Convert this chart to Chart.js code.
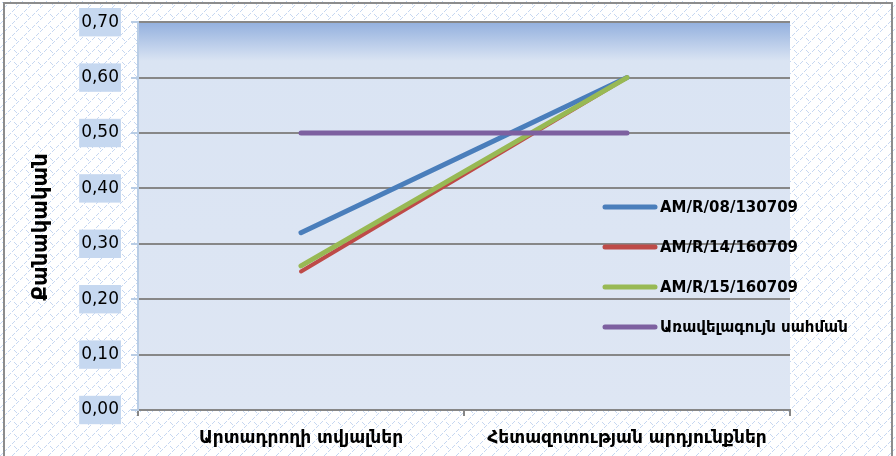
<!DOCTYPE html>
<html>
<head>
<meta charset="utf-8">
<script src="https://cdn.jsdelivr.net/npm/chart.js@4/dist/chart.umd.min.js"></script>
<style>
    body { margin: 0; background: #fff; }
    #wrap { width: 896px; height: 456px; }
</style>
</head>
<body>
<div id="wrap"><canvas id="qualityChart" width="896" height="456"></canvas></div>
<script>
const categories = ["Արտադրողի տվյալներ", "Հետազոտության արդյունքներ"];
const seriesNames = ["AM/R/08/130709", "AM/R/14/160709", "AM/R/15/160709", "Առավելագույն սահման"];
const sample08 = [0.32, 0.60];
const sample14 = [0.25, 0.60];
const sample15 = [0.26, 0.60];
const maxLimit = [0.50, 0.50];
const yTicks = [0, 0.1, 0.2, 0.3, 0.4, 0.5, 0.6, 0.7];
const yTitle = "Քանակական";

const colors = ["#4a7ebb", "#be4b48", "#98b954", "#7d60a0"];
const widths = [5, 4, 5, 5];

// hatched page background: "/" lines with short "\" links
function makeHatch(ctx) {
    const c = document.createElement("canvas");
    c.width = 12; c.height = 12;
    const p = c.getContext("2d");
    p.fillStyle = "#fff";
    p.fillRect(0, 0, 12, 12);
    p.fillStyle = "#c6d7f1";
    for (let i = 0; i < 12; i++) {
        if (i % 4 !== 3) p.fillRect(i, 11 - i, 1, 1);
    }
    for (let i = 0; i < 3; i++) p.fillRect(i + 2, i + 2, 1, 1);
    return ctx.createPattern(c, "repeat");
}

const backgroundPlugin = {
    id: "bg",
    beforeDraw(chart) {
        const ctx = chart.ctx;
        const a = chart.chartArea;
        ctx.save();
        ctx.fillStyle = makeHatch(ctx);
        ctx.fillRect(0, 0, chart.width, chart.height);
        ctx.strokeStyle = "#8c8c8c";
        ctx.lineWidth = 2;
        ctx.strokeRect(4, 3, 888, 470);
        const g = ctx.createLinearGradient(0, a.top, 0, a.bottom);
        g.addColorStop(0, "#93b0de");
        g.addColorStop(0.1, "#dae4f3");
        g.addColorStop(1, "#dee6f3");
        ctx.fillStyle = g;
        ctx.fillRect(a.left, a.top, a.right - a.left, a.bottom - a.top);
        ctx.restore();
    },
    afterDraw(chart) {
        // y title, sits a bit below the plot middle like the original
        const ctx = chart.ctx;
        ctx.save();
        ctx.translate(42, 227);
        ctx.rotate(-Math.PI / 2);
        ctx.font = "bold 21px 'DejaVu Sans'";
        ctx.fillStyle = "#000";
        ctx.textAlign = "center";
        ctx.textBaseline = "middle";
        ctx.fillText(yTitle, 0, 0);
        ctx.restore();
    }
};

const legendPlugin = {
    id: "sideLegend",
    afterDraw(chart) {
        const ctx = chart.ctx;
        const rows = [207, 247, 287, 327];
        ctx.save();
        ctx.font = "bold 15px 'DejaVu Sans'";
        ctx.textBaseline = "middle";
        chart.data.datasets.forEach((ds, i) => {
            ctx.strokeStyle = ds.borderColor;
            ctx.lineWidth = 5;
            ctx.lineCap = "round";
            ctx.beginPath();
            ctx.moveTo(605, rows[i]);
            ctx.lineTo(655, rows[i]);
            ctx.stroke();
            ctx.fillStyle = "#000";
            ctx.fillText(ds.label, 660, rows[i] + 1);
        });
        ctx.restore();
    }
};

const seriesData = [sample08, sample14, sample15, maxLimit];

new Chart(document.getElementById("qualityChart"), {
    type: "line",
    data: {
        labels: categories,
        datasets: seriesData.map((d, i) => ({
            label: seriesNames[i],
            data: d,
            borderColor: colors[i],
            backgroundColor: colors[i],
            borderWidth: widths[i],
            borderCapStyle: "round",
            pointRadius: 0,
            tension: 0,
            order: 4 - i
        }))
    },
    options: {
        responsive: false,
        animation: false,
        layout: { padding: { left: 4, top: 22, right: 106, bottom: 0 } },
        plugins: {
            legend: { display: false },
            tooltip: { enabled: false }
        },
        scales: {
            x: {
                offset: true,
                grid: {
                    offset: true,
                    drawOnChartArea: false,
                    drawTicks: true,
                    tickLength: 6,
                    color: "#868686",
                    lineWidth: 2
                },
                border: { color: "#868686", width: 2 },
                ticks: {
                    color: "#000",
                    padding: 12,
                    font: { family: "'DejaVu Sans'", size: 17, weight: "bold" }
                },
                afterFit: s => { s.height = 46; }
            },
            y: {
                min: 0,
                max: 0.7,
                afterBuildTicks: s => { s.ticks = yTicks.map(v => ({ value: v })); },
                grid: {
                    color: "#878787",
                    lineWidth: 2,
                    tickLength: 7,
                    tickColor: "#b9cde5"
                },
                border: { color: "#b9cde5", width: 2 },
                ticks: {
                    color: "#000",
                    padding: 12,
                    font: { family: "'DejaVu Sans'", size: 17 },
                    showLabelBackdrop: true,
                    backdropColor: "#c6d8f0",
                    backdropPadding: { top: 4, bottom: 4, left: 2, right: 2 },
                    callback: v => v.toFixed(2).replace(".", ",")
                },
                afterFit: s => { s.width = 134; }
            }
        }
    },
    plugins: [backgroundPlugin, legendPlugin]
});
</script>
</body>
</html>
